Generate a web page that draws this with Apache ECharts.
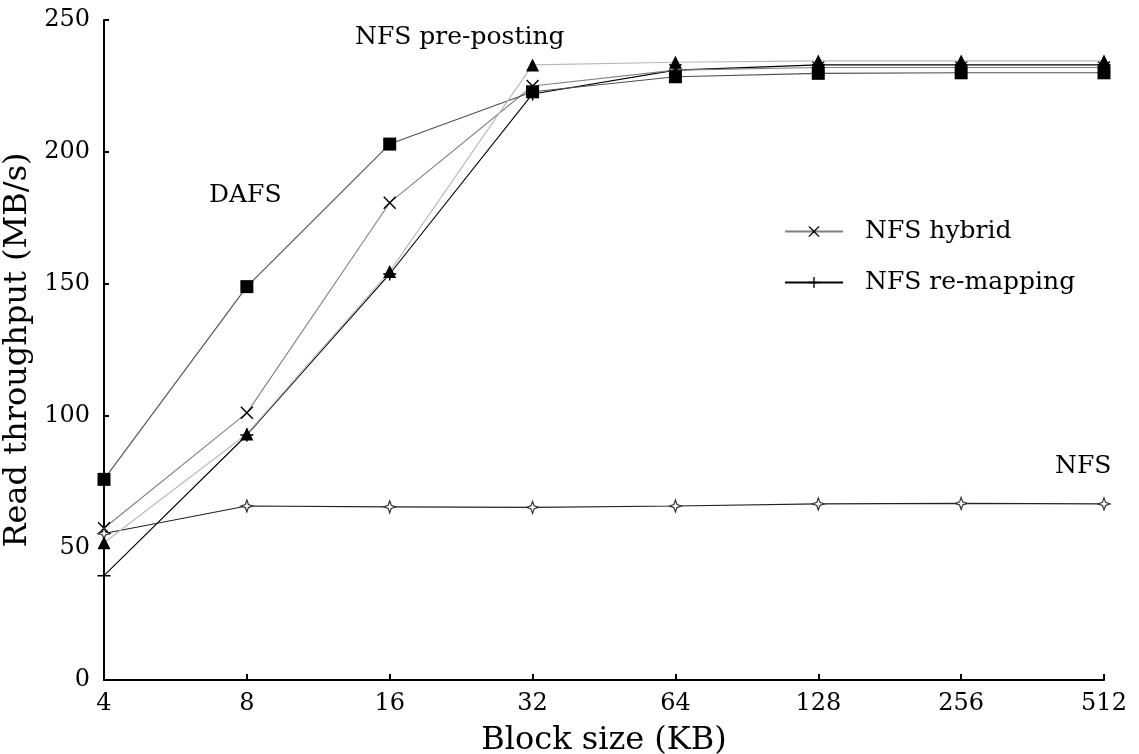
<!DOCTYPE html>
<html>
<head>
<meta charset="utf-8">
<script src="https://cdn.jsdelivr.net/npm/echarts@6/dist/echarts.min.js"></script>
<style>
  html, body { margin: 0; padding: 0; background: #fff; }
  #chart { width: 1139px; height: 754px; }
</style>
</head>
<body>
<div id="chart"></div>
<script>
// Block sizes on the x axis (KB)
const blockSizes = ['4', '8', '16', '32', '64', '128', '256', '512'];

// Read throughput per block size (MB/s)
const dafs          = [76, 149, 203, 222.8, 228.5, 229.8, 230, 230];
const nfsPrePosting = [52, 93.2, 154.7, 233, 234, 234.5, 234.5, 234.5];
const nfsHybrid     = [57.5, 101.2, 180.8, 225, 231, 232, 232, 232];
const nfsRemapping  = [39.5, 92.8, 153.8, 222, 231, 233, 233, 233];
const nfs           = [55.5, 65.9, 65.6, 65.4, 65.9, 66.7, 66.9, 66.7];

const FONT = 'DejaVu Serif';

// Marker shapes
const PLUS = 'path://M4.4,0 H5.6 V4.4 H10 V5.6 H5.6 V10 H4.4 V5.6 H0 V4.4 H4.4 Z';
const CROSS = 'path://M0,0.8 L0.8,0 L5,4.2 L9.2,0 L10,0.8 L5.8,5 L10,9.2 L9.2,10 L5,5.8 L0.8,10 L0,9.2 L4.2,5 Z';
const STAR4 = 'path://M5,0 L6.3,3.7 L10,5 L6.3,6.3 L5,10 L3.7,6.3 L0,5 L3.7,3.7 Z';

const chart = echarts.init(document.getElementById('chart'), null, { renderer: 'canvas' });

chart.setOption({
  animation: false,
  backgroundColor: '#fff',
  textStyle: { fontFamily: FONT, color: '#000' },
  grid: { left: 104, right: 35, top: 20, bottom: 74, containLabel: false, outerBoundsMode: 'none' },
  legend: {
    data: ['NFS hybrid', 'NFS re-mapping'],
    orient: 'vertical',
    left: 779,
    top: 214,
    itemWidth: 58,
    itemHeight: 14,
    itemGap: 26,
    textStyle: { fontFamily: FONT, fontSize: 25, color: '#000', padding: [0, 0, 0, 17] }
  },
  xAxis: {
    type: 'category',
    data: blockSizes,
    boundaryGap: false,
    name: 'Block size (KB)',
    nameLocation: 'middle',
    nameGap: 45,
    nameTextStyle: { fontFamily: FONT, fontSize: 32, color: '#000' },
    axisLine: { lineStyle: { color: '#000', width: 2 } },
    axisTick: { inside: true, length: 6, lineStyle: { color: '#000', width: 2 }, alignWithLabel: true },
    axisLabel: { fontFamily: FONT, fontSize: 24, color: '#000', margin: 12 },
    splitLine: { show: false }
  },
  yAxis: {
    type: 'value',
    min: 0,
    max: 250,
    interval: 50,
    name: 'Read throughput (MB/s)',
    nameLocation: 'middle',
    nameGap: 58,
    nameTextStyle: { fontFamily: FONT, fontSize: 32, color: '#000' },
    axisLine: { show: true, lineStyle: { color: '#000', width: 2 } },
    axisTick: { show: true, inside: true, length: 5, lineStyle: { color: '#000', width: 2 } },
    axisLabel: { fontFamily: FONT, fontSize: 24, color: '#000', margin: 14 },
    splitLine: { show: false }
  },
  series: [
    {
      name: 'NFS re-mapping',
      type: 'line',
      data: nfsRemapping,
      symbol: PLUS,
      symbolSize: 13,
      showAllSymbol: true,
      lineStyle: { color: '#000', width: 1.1 },
      itemStyle: { color: '#000' },
      z: 2
    },
    {
      name: 'NFS hybrid',
      type: 'line',
      data: nfsHybrid,
      symbol: CROSS,
      symbolSize: 13,
      showAllSymbol: true,
      lineStyle: { color: '#808080', width: 1.1 },
      itemStyle: { color: '#000' },
      z: 3
    },
    {
      name: 'NFS',
      type: 'line',
      data: nfs,
      symbol: STAR4,
      symbolSize: 12,
      showAllSymbol: true,
      lineStyle: { color: '#222', width: 1.2 },
      itemStyle: { color: '#fff', borderColor: '#333', borderWidth: 1.2 },
      z: 3
    },
    {
      name: 'DAFS',
      type: 'line',
      data: dafs,
      symbol: 'rect',
      symbolSize: 13,
      showAllSymbol: true,
      lineStyle: { color: '#505050', width: 1.1 },
      itemStyle: { color: '#000' },
      z: 4
    },
    {
      name: 'NFS pre-posting',
      type: 'line',
      data: nfsPrePosting,
      symbol: 'triangle',
      symbolSize: 13,
      showAllSymbol: true,
      lineStyle: { color: '#b8b8b8', width: 1.1 },
      itemStyle: { color: '#000' },
      z: 5
    }
  ],
  graphic: [
    {
      type: 'text', left: 355, top: 25,
      style: { text: 'NFS pre-posting', font: '25px "' + FONT + '"', fill: '#000' }
    },
    {
      type: 'text', left: 209, top: 183,
      style: { text: 'DAFS', font: '25px "' + FONT + '"', fill: '#000' }
    },
    {
      type: 'text', left: 1055, top: 454,
      style: { text: 'NFS', font: '25px "' + FONT + '"', fill: '#000' }
    }
  ]
});
</script>
</body>
</html>
